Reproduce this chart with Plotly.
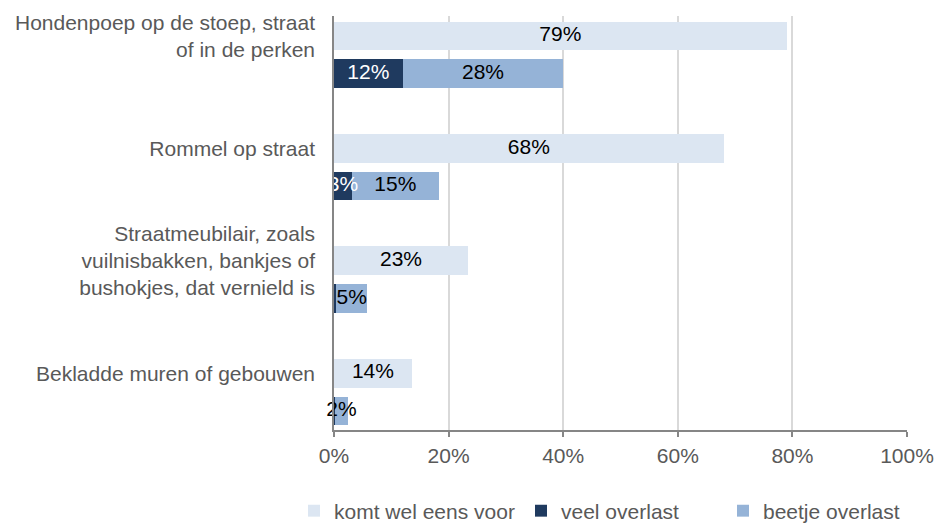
import plotly.graph_objects as go
import numpy as np

categories = [
    "Hondenpoep op de stoep, straat<br>of in de perken",
    "Rommel op straat",
    "Straatmeubilair, zoals<br>vuilnisbakken, bankjes of<br>bushokjes, dat vernield is",
    "Bekladde muren of gebouwen",
]
komt_wel_eens_voor = [79, 68, 23.4, 13.6]
veel_overlast = [12, 3.1, 0.4, 0.2]
beetje_overlast = [28, 15.2, 5.4, 2.2]

series_names = ["komt wel eens voor", "veel overlast", "beetje overlast"]
colors = ["#DCE6F2", "#1F3A5F", "#95B3D7"]

FONT = "Liberation Sans, Arial, sans-serif"
FS = 21
GREY = "#595959"

pos = np.arange(len(categories))
offset = 0.335
bw = 0.255


def labels(vals, minv=1.0):
    return [f"{v:.0f}%" if v >= minv else "" for v in vals]


komt = np.array(komt_wel_eens_voor)
veel = np.array(veel_overlast)
beetje = np.array(beetje_overlast)

fig = go.Figure()
fig.add_trace(go.Bar(
    y=pos, x=komt, orientation="h", width=bw,
    name=series_names[0], marker=dict(color=colors[0], line=dict(width=0)),
    legend="legend", hoverinfo="x",
))
fig.add_trace(go.Bar(
    y=pos + offset, x=veel, orientation="h", width=bw,
    name=series_names[1], marker=dict(color=colors[1], line=dict(width=0)),
    legend="legend2", hoverinfo="x",
))
fig.add_trace(go.Bar(
    y=pos + offset, x=beetje, orientation="h", width=bw,
    name=series_names[2], marker=dict(color=colors[2], line=dict(width=0)),
    legend="legend3", hoverinfo="x",
))

# data labels, drawn on top of all bars
fig.add_trace(go.Scatter(
    x=komt / 2, y=pos, mode="text", text=labels(komt),
    textfont=dict(color="black", size=FS, family=FONT),
    showlegend=False, hoverinfo="skip", cliponaxis=False,
))
fig.add_trace(go.Scatter(
    x=beetje / 2 + veel, y=pos + offset, mode="text", text=labels(beetje),
    textfont=dict(color="black", size=FS, family=FONT),
    showlegend=False, hoverinfo="skip", cliponaxis=False,
))
fig.add_trace(go.Scatter(
    x=veel / 2, y=pos + offset, mode="text", text=labels(veel),
    textfont=dict(color="white", size=FS, family=FONT),
    showlegend=False, hoverinfo="skip", cliponaxis=False,
))

W, H = 936, 524
ml, mr, mt, mb = 334, 29, 16, 94
leg_y = (H - 511) / H


def cx(px):
    return px / W


legend_common = dict(orientation="h", yanchor="middle", xanchor="left",
                     xref="container", yref="container",
                     font=dict(size=FS, color=GREY, family=FONT),
                     bgcolor="rgba(0,0,0,0)", itemwidth=30)

fig.update_layout(
    width=W, height=H,
    margin=dict(l=ml, r=mr, t=mt, b=mb, autoexpand=False),
    paper_bgcolor="white", plot_bgcolor="white",
    barmode="stack", bargap=0,
    font=dict(family=FONT, size=FS, color=GREY),
    showlegend=True,
    legend=dict(x=cx(294), y=leg_y, **legend_common),
    legend2=dict(x=cx(521), y=leg_y, **legend_common),
    legend3=dict(x=cx(723), y=leg_y, **legend_common),
    xaxis=dict(
        range=[0, 100], dtick=20, ticksuffix="%",
        showgrid=True, gridcolor="#D9D9D9", gridwidth=1.5,
        showline=True, linecolor="#868686", linewidth=1.5,
        ticks="outside", ticklen=5, tickcolor="#868686", tickwidth=1.5,
        tickfont=dict(size=FS, color=GREY, family=FONT),
        ticklabelstandoff=1, zeroline=False, fixedrange=True, automargin=False,
    ),
    yaxis=dict(
        range=[3.505, -0.178], tickvals=pos, ticktext=categories,
        showgrid=False, zeroline=False,
        showline=True, linecolor="#868686", linewidth=1.5,
        ticks="", tickfont=dict(size=FS, color=GREY, family=FONT),
        ticklabelstandoff=13, fixedrange=True, automargin=False,
    ),
)

fig.write_html("out.html", config={"displayModeBar": False},
               post_script="document.body.style.margin='0px';")
